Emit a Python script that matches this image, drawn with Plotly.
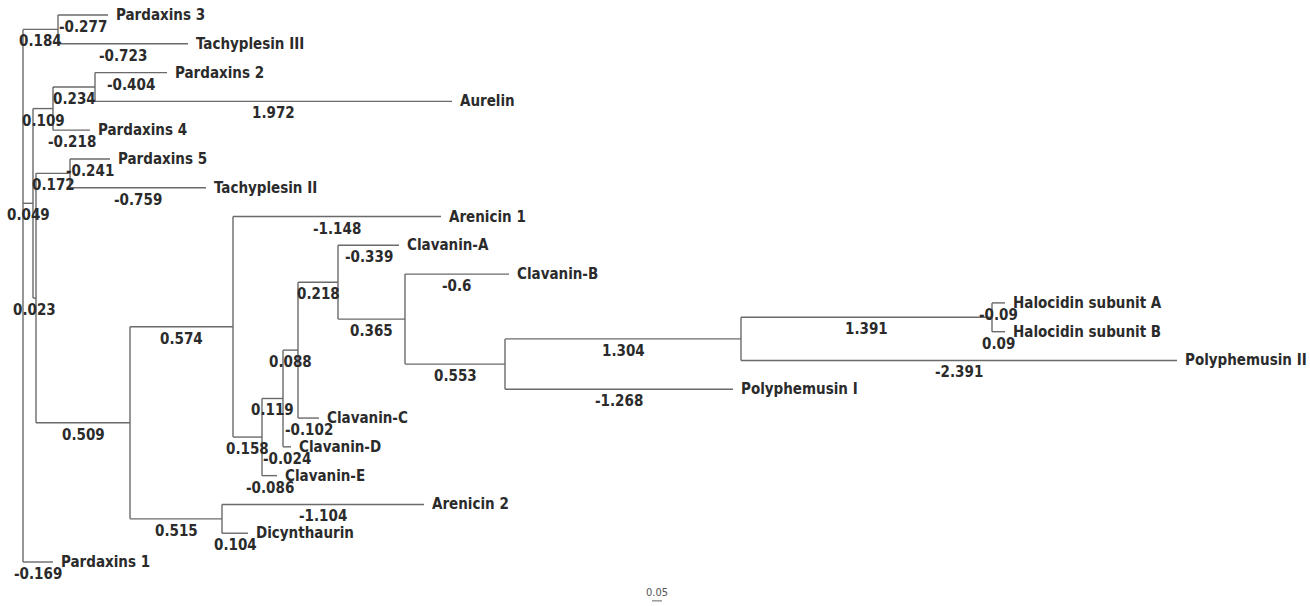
import plotly.graph_objects as go

# ---------------- data ----------------
# tree topology: node name, parent, drawn branch length (tree units), branch label shown
node_names = [
    "n184", "Pardaxins 3", "Tachyplesin III",
    "n049", "n109", "n234", "Pardaxins 2", "Aurelin", "Pardaxins 4",
    "n023", "n172", "Pardaxins 5", "Tachyplesin II",
    "n509", "n574", "Arenicin 1", "n158", "n119", "Clavanin-E", "n088", "Clavanin-D",
    "n218", "Clavanin-C", "Clavanin-A", "n365", "Clavanin-B", "n553", "n1304",
    "Polyphemusin I", "n1391", "Polyphemusin II", "Halocidin subunit A", "Halocidin subunit B",
    "n515", "Arenicin 2", "Dicynthaurin", "Pardaxins 1",
]
node_parents = [
    "root", "n184", "n184",
    "root", "n049", "n109", "n234", "n234", "n109",
    "n049", "n023", "n172", "n172",
    "n023", "n509", "n574", "n574", "n158", "n158", "n119", "n119",
    "n088", "n088", "n218", "n218", "n365", "n365", "n553",
    "n553", "n1304", "n1304", "n1391", "n1391",
    "n509", "n515", "n515", "root",
]
branch_lengths = [
    0.175, 0.25, 0.65,
    0.05, 0.10, 0.21, 0.36, 1.785, 0.185,
    0.015, 0.17, 0.20, 0.68,
    0.47, 0.515, 1.04, 0.145, 0.105, 0.075, 0.075, 0.04,
    0.20, 0.105, 0.305, 0.335, 0.52, 0.50, 1.18,
    1.14, 1.255, 2.18, 0.065, 0.065,
    0.46, 1.01, 0.13, 0.15,
]
branch_labels = [
    "0.184", "-0.277", "-0.723",
    "0.049", "0.109", "0.234", "-0.404", "1.972", "-0.218",
    "0.023", "0.172", "-0.241", "-0.759",
    "0.509", "0.574", "-1.148", "0.158", "0.119", "-0.086", "0.088", "-0.024",
    "0.218", "-0.102", "-0.339", "0.365", "-0.6", "0.553", "1.304",
    "-1.268", "1.391", "-2.391", "-0.09", "0.09",
    "0.515", "-1.104", "0.104", "-0.169",
]
# leaves from top to bottom
leaf_order = [
    "Pardaxins 3", "Tachyplesin III", "Pardaxins 2", "Aurelin", "Pardaxins 4",
    "Pardaxins 5", "Tachyplesin II", "Arenicin 1", "Clavanin-A", "Clavanin-B",
    "Halocidin subunit A", "Halocidin subunit B", "Polyphemusin II", "Polyphemusin I",
    "Clavanin-C", "Clavanin-D", "Clavanin-E", "Arenicin 2", "Dicynthaurin", "Pardaxins 1",
]
scale_value = 0.05

# ---------------- layout of the tree ----------------
parent_of = dict(zip(node_names, node_parents))
blen = dict(zip(node_names, branch_lengths))
blab = dict(zip(node_names, branch_labels))
children = {}
for n, p in zip(node_names, node_parents):
    children.setdefault(p, []).append(n)

xpos = {"root": 0.0}
def set_x(n):
    for c in children.get(n, []):
        xpos[c] = xpos[n] + blen[c]
        set_x(c)
set_x("root")

ypos = {leaf: i for i, leaf in enumerate(leaf_order)}
def set_y(n):
    if n in ypos:
        return ypos[n]
    ys = [set_y(c) for c in children[n]]
    ypos[n] = (min(ys) + max(ys)) / 2
    return ypos[n]
set_y("root")

lx, ly = [], []
for n in node_names:
    p = parent_of[n]
    lx += [xpos[p], xpos[n], None]
    ly += [ypos[n], ypos[n], None]
for n, ch in children.items():
    cy = [ypos[c] for c in ch]
    lx += [xpos[n], xpos[n], None]
    ly += [min(cy), max(cy), None]

FONT = "DejaVu Sans Condensed, DejaVu Sans, sans-serif"
TXT = "#2b2b2b"

fig = go.Figure()
fig.add_trace(go.Scatter(x=lx, y=ly, mode="lines",
                         line=dict(color="#6a6a6a", width=1.4),
                         hoverinfo="skip", showlegend=False))

annotations = []
for leaf in leaf_order:
    annotations.append(dict(x=xpos[leaf], y=ypos[leaf], xref="x", yref="y",
                            text=leaf, showarrow=False, xanchor="left", yanchor="middle",
                            xshift=6, yshift=0,
                            font=dict(family=FONT, size=15, color=TXT, weight="bold")))
for n in node_names:
    p = parent_of[n]
    annotations.append(dict(x=(xpos[p] + xpos[n]) / 2, y=ypos[n], xref="x", yref="y",
                            text=blab[n], showarrow=False, xanchor="center", yanchor="middle",
                            yshift=-12,
                            font=dict(family=FONT, size=15, color=TXT, weight="bold")))

# scale bar
sb_x0 = 3.145
sb_y = 20.35
fig.add_shape(type="line", x0=sb_x0, x1=sb_x0 + scale_value, y0=sb_y, y1=sb_y,
              xref="x", yref="y", line=dict(color="#666", width=1))
annotations.append(dict(x=sb_x0 + scale_value / 2, y=sb_y, xref="x", yref="y",
                        text=f"{scale_value:.2f}", showarrow=False, xanchor="center",
                        yanchor="bottom", yshift=0,
                        font=dict(family=FONT, size=11, color="#555")))

px_per_unit = 200.0
root_px = 23
leaf_top_px = 15
leaf_step_px = 28.79
W, H = 1310, 606
fig.update_layout(
    width=W, height=H, margin=dict(l=0, r=0, t=0, b=0),
    paper_bgcolor="white", plot_bgcolor="white",
    xaxis=dict(range=[-root_px / px_per_unit, (W - root_px) / px_per_unit],
               visible=False, showgrid=False, zeroline=False),
    yaxis=dict(range=[(H - leaf_top_px) / leaf_step_px, -leaf_top_px / leaf_step_px],
               visible=False, showgrid=False, zeroline=False),
    annotations=annotations,
    showlegend=False,
)
fig.write_html("out.html", config={"displayModeBar": False})
